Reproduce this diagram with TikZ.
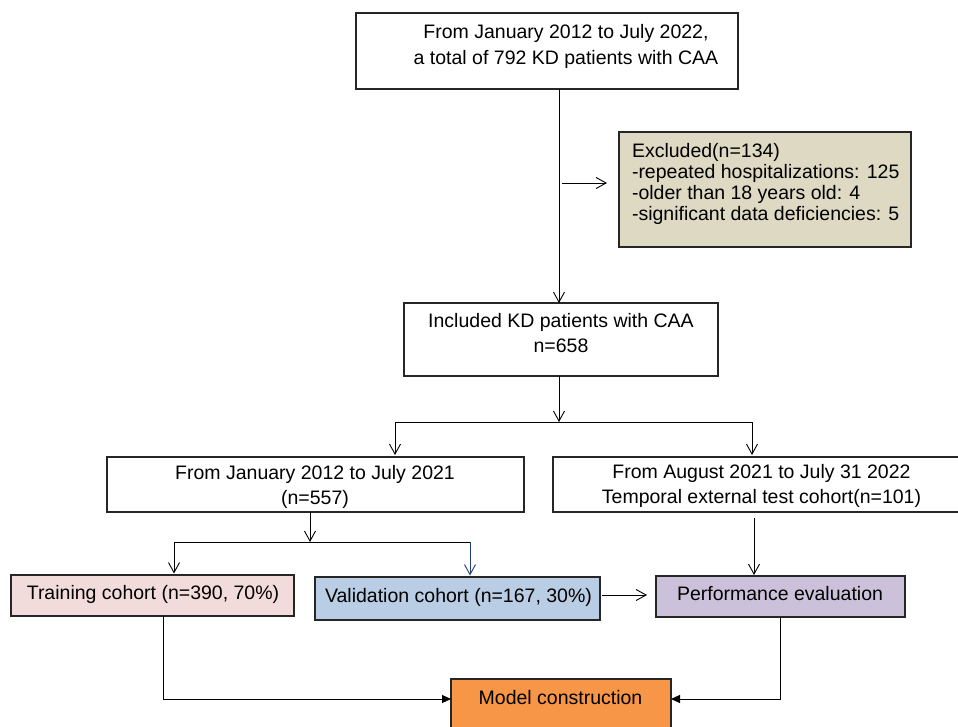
\documentclass[tikz,border=0pt]{standalone}
\usepackage{fontspec}
\setmainfont{Liberation Sans}
\usetikzlibrary{arrows.meta}
\definecolor{exfill}{HTML}{DDD9C3}
\definecolor{trfill}{HTML}{F2DCDB}
\definecolor{vafill}{HTML}{B9CDE5}
\definecolor{pefill}{HTML}{CCC1DA}
\definecolor{mofill}{HTML}{F79646}
\definecolor{navyarrow}{HTML}{1F3D7A}
\begin{document}
\begin{tikzpicture}[x=1pt,y=-1pt,
  box/.style={draw=black!85, line width=1.1pt, inner sep=0pt, outer sep=0pt},
  txt/.style={inner sep=0pt, outer sep=0pt, align=center, font=\fontsize{19.5}{24.5}\selectfont},
  arr/.style={-{Straight Barb[length=10pt,width=11pt]}, line width=0.9pt, black},
  farr/.style={-{Triangle[length=9pt,width=8pt]}, line width=0.9pt, black}]
\useasboundingbox (0,0) rectangle (958,727);
\clip (0,0) rectangle (958,727);
% boxes
\node[box, minimum width=382pt, minimum height=76pt] (top) at (547,51) {};
\node[box, fill=exfill, minimum width=292pt, minimum height=115pt] (exc) at (765,189.5) {};
\node[box, minimum width=314pt, minimum height=73pt] (inc) at (561,339.5) {};
\node[box, minimum width=417pt, minimum height=55pt] (lmid) at (315.5,484.5) {};
\node[box, minimum width=417pt, minimum height=55pt] (rmid) at (761.5,484.5) {};
\node[box, fill=trfill, minimum width=283pt, minimum height=41pt] (train) at (152.5,595.5) {};
\node[box, fill=vafill, minimum width=285pt, minimum height=43pt] (val) at (457.5,598.5) {};
\node[box, fill=pefill, minimum width=249pt, minimum height=41pt] (perf) at (780.5,596.5) {};
\node[box, fill=mofill, minimum width=220pt, minimum height=66pt] (model) at (561,712) {};
% texts
\node[txt, font=\fontsize{19.5}{26}\selectfont] (toptxt) at (566,46.5) {From January 2012 to July 2022,\\a total of 792 KD patients with CAA};
\node[txt, align=left, anchor=west, font=\fontsize{19.5}{20.7}\selectfont] (exctxt) at (632,184) {Excluded(n=134)\\-repeated hospitalizations: 125\\-older than 18 years old: 4\\-significant data deficiencies: 5};
\node[txt] (inctxt) at (561,333) {Included KD patients with CAA\\n=658};
\node[txt] (lmidtxt) at (315,487) {From January 2012 to July 2021\\(n=557)};
\node[txt] (rmidtxt) at (761.5,486) {From August 2021 to July 31 2022\\Temporal external test cohort(n=101)};
\node[txt] (traintxt) at (153,594) {Training cohort (n=390, 70\%)};
\node[txt] (valtxt) at (458.5,597) {Validation cohort (n=167, 30\%)};
\node[txt] (perftxt) at (780,594) {Performance evaluation};
\node[txt] (modeltxt) at (560.5,698) {Model construction};
% connector coordinates
\coordinate (ea) at (562,183);
\coordinate (s1) at (559,422);
\coordinate (s1l) at (395,422);
\coordinate (s1r) at (752,422);
\coordinate (s2) at (310,542);
\coordinate (s2l) at (174,542);
\coordinate (s2r) at (470,542);
\coordinate (vp) at (602,595);
\coordinate (rp) at (754,518);
\coordinate (ml) at (451,699);
\coordinate (mr) at (671,699);
% connectors
\draw[arr] ([xshift=12pt]top.south) -- ([xshift=-2pt]inc.north);
\draw[arr, shorten >=12pt] (ea) -- (ea -| exc.west);
\draw[arr] ([xshift=-2pt]inc.south) -- (s1);
\draw[line width=0.9pt] (s1l) -- (s1r);
\draw[arr, shorten >=2pt] (s1l) -- (s1l |- lmid.north);
\draw[arr, shorten >=2pt] (s1r) -- (s1r |- rmid.north);
\draw[arr] ([xshift=-5.5pt]lmid.south) -- (s2);
\draw[line width=0.9pt] (s2l) -- (s2r);
\draw[arr, shorten >=1.5pt] (s2l) -- (s2l |- train.north);
\draw[arr, navyarrow, shorten >=1.5pt] (s2r) -- (s2r |- val.north);
\draw[arr, shorten >=9pt] (vp) -- (vp -| perf.west);
\draw[arr, shorten >=1pt] (rp) -- (rp |- perf.north);
\draw[farr] ([xshift=10.5pt]train.south) |- (ml);
\draw[farr] ([xshift=-0.5pt]perf.south) |- (mr);
\end{tikzpicture}
\end{document}
